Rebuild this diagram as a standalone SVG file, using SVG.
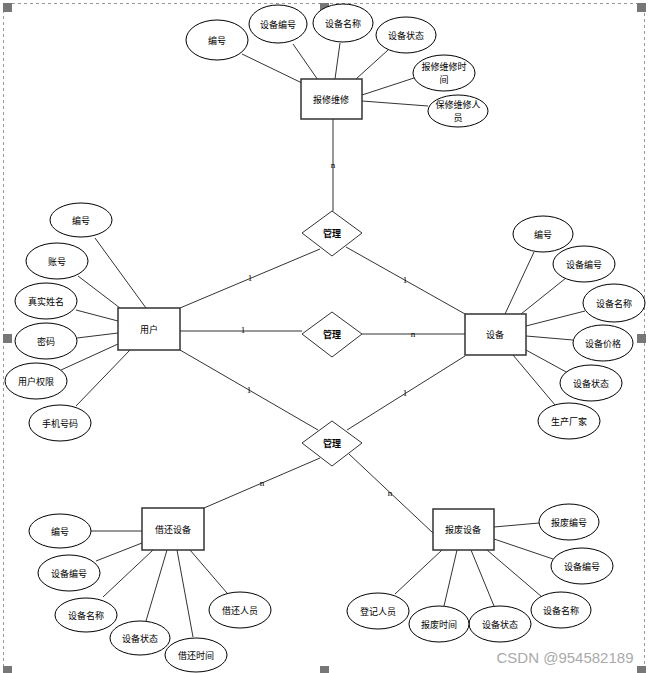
<svg xmlns="http://www.w3.org/2000/svg" width="648" height="673" viewBox="0 0 648 673">
<style>
.ent{fill:#fff;stroke:#333;stroke-width:1.5}
.att{fill:#fff;stroke:#000;stroke-width:1}
.rel{fill:#fff;stroke:#333;stroke-width:1}
.ln{stroke:#333;stroke-width:1;fill:none}
.t{font-family:"Noto Sans CJK SC","Liberation Sans",sans-serif;font-size:9px;text-anchor:middle;dominant-baseline:central;fill:#000}
.tb{font-weight:bold}
.card{font-family:"Liberation Serif",serif;font-size:9px;text-anchor:middle;dominant-baseline:central;fill:#000}
.h{fill:#777}
</style>
<rect width="648" height="673" fill="#fff"/>
<path d="M3.5,673 V3.5 H644.5 V673" fill="none" stroke="#999" stroke-dasharray="3,3"/>
<g id="handles">
<rect class="h" x="3" y="3" width="9" height="9"/>
<rect class="h" x="320" y="3" width="9" height="9"/>
<rect class="h" x="637" y="3" width="9" height="9"/>
<rect class="h" x="3" y="334" width="9" height="9"/>
<rect class="h" x="637" y="334" width="9" height="9"/>
<rect class="h" x="3" y="666" width="9" height="9"/>
<rect class="h" x="320" y="666" width="9" height="9"/>
<rect class="h" x="637" y="666" width="9" height="9"/>
</g>
<g id="connectors">
<line class="ln" x1="242" y1="54" x2="302" y2="83"/>
<line class="ln" x1="293" y1="44" x2="318" y2="80"/>
<line class="ln" x1="340" y1="43" x2="335" y2="79"/>
<line class="ln" x1="388" y1="50" x2="356" y2="79"/>
<line class="ln" x1="417" y1="77" x2="362" y2="95"/>
<line class="ln" x1="428" y1="106" x2="362" y2="101"/>
<line class="ln" x1="333" y1="119" x2="333" y2="211"/>
<line class="ln" x1="180" y1="308" x2="320" y2="249"/>
<line class="ln" x1="346" y1="247" x2="465" y2="314"/>
<line class="ln" x1="180" y1="331" x2="302" y2="331"/>
<line class="ln" x1="362" y1="334" x2="465" y2="334"/>
<line class="ln" x1="180" y1="350" x2="318" y2="430"/>
<line class="ln" x1="465" y1="356" x2="347" y2="430"/>
<line class="ln" x1="320" y1="458" x2="204" y2="508"/>
<line class="ln" x1="349" y1="454" x2="433" y2="533"/>
<line class="ln" x1="95" y1="238" x2="146" y2="308"/>
<line class="ln" x1="78" y1="276" x2="120" y2="308"/>
<line class="ln" x1="76" y1="310" x2="118" y2="321"/>
<line class="ln" x1="77" y1="338" x2="118" y2="333"/>
<line class="ln" x1="61" y1="370" x2="118" y2="344"/>
<line class="ln" x1="76" y1="406" x2="130" y2="350"/>
<line class="ln" x1="534" y1="252" x2="505" y2="314"/>
<line class="ln" x1="566" y1="278" x2="521" y2="314"/>
<line class="ln" x1="585" y1="311" x2="526" y2="326"/>
<line class="ln" x1="573" y1="340" x2="526" y2="336"/>
<line class="ln" x1="568" y1="373" x2="526" y2="350"/>
<line class="ln" x1="555" y1="405" x2="513" y2="355"/>
<line class="ln" x1="91" y1="531" x2="142" y2="531"/>
<line class="ln" x1="96" y1="561" x2="142" y2="543"/>
<line class="ln" x1="103" y1="597" x2="153" y2="550"/>
<line class="ln" x1="146" y1="621" x2="167" y2="550"/>
<line class="ln" x1="193" y1="637" x2="177" y2="550"/>
<line class="ln" x1="227" y1="593" x2="190" y2="550"/>
<line class="ln" x1="494" y1="527" x2="539" y2="523"/>
<line class="ln" x1="494" y1="539" x2="553" y2="559"/>
<line class="ln" x1="487" y1="550" x2="542" y2="597"/>
<line class="ln" x1="471" y1="550" x2="494" y2="606"/>
<line class="ln" x1="457" y1="550" x2="444" y2="606"/>
<line class="ln" x1="442" y1="550" x2="395" y2="594"/>
<g id="cardinalities">
<text class="card" x="333" y="165">n</text>
<text class="card" x="250" y="278">1</text>
<text class="card" x="405" y="280">1</text>
<text class="card" x="243" y="330">1</text>
<text class="card" x="413" y="334">n</text>
<text class="card" x="249" y="390">1</text>
<text class="card" x="405" y="393">1</text>
<text class="card" x="262" y="483">n</text>
<text class="card" x="390" y="493">n</text>
</g>
</g>
<g id="repair">
<rect class="ent" x="301" y="79" width="61" height="40"/>
<text class="t" x="331" y="99">报修维修</text>
</g>
<g id="repair-id"><ellipse class="att" cx="217" cy="40" rx="31" ry="20"/><text class="t" x="217" y="40">编号</text></g>
<g id="repair-devno"><ellipse class="att" cx="278" cy="24" rx="29" ry="19"/><text class="t" x="278" y="24">设备编号</text></g>
<g id="repair-devname"><ellipse class="att" cx="343" cy="23" rx="30" ry="19"/><text class="t" x="343" y="23">设备名称</text></g>
<g id="repair-devstate"><ellipse class="att" cx="406" cy="35" rx="30" ry="18"/><text class="t" x="406" y="35">设备状态</text></g>
<g id="repair-time"><ellipse class="att" cx="444" cy="73" rx="31" ry="18"/><text class="t" x="444" y="66.5" font-size="8.5">报修维修时</text><text class="t" x="444" y="79.5" font-size="8.5">间</text></g>
<g id="repair-staff"><ellipse class="att" cx="458" cy="111" rx="30" ry="16"/><text class="t" x="458" y="104.5" font-size="8.5">保修维修人</text><text class="t" x="458" y="117.5" font-size="8.5">员</text></g>
<g id="rel1"><polygon class="rel" points="302,233 332,211 362,233 332,256"/><text class="t tb" x="332" y="233">管理</text></g>
<g id="rel2"><polygon class="rel" points="302,334 332,312 362,334 332,357"/><text class="t tb" x="332" y="334">管理</text></g>
<g id="rel3"><polygon class="rel" points="302,443 332,421 362,443 332,466"/><text class="t tb" x="332" y="443">管理</text></g>
<g id="user">
<rect class="ent" x="118" y="308" width="62" height="42"/>
<text class="t" x="149" y="329">用户</text>
</g>
<g id="user-id"><ellipse class="att" cx="81" cy="220" rx="31" ry="17"/><text class="t" x="81" y="220">编号</text></g>
<g id="user-account"><ellipse class="att" cx="57" cy="261" rx="31" ry="18"/><text class="t" x="57" y="261">账号</text></g>
<g id="user-name"><ellipse class="att" cx="46" cy="301" rx="31" ry="18"/><text class="t" x="46" y="301">真实姓名</text></g>
<g id="user-pwd"><ellipse class="att" cx="46" cy="341" rx="31" ry="18"/><text class="t" x="46" y="341">密码</text></g>
<g id="user-perm"><ellipse class="att" cx="36" cy="381" rx="31" ry="18"/><text class="t" x="36" y="381">用户权限</text></g>
<g id="user-phone"><ellipse class="att" cx="60" cy="423" rx="31" ry="18"/><text class="t" x="60" y="423">手机号码</text></g>
<g id="device">
<rect class="ent" x="465" y="314" width="61" height="41"/>
<text class="t" x="495" y="334">设备</text>
</g>
<g id="dev-id"><ellipse class="att" cx="543" cy="234" rx="30" ry="18"/><text class="t" x="543" y="234">编号</text></g>
<g id="dev-no"><ellipse class="att" cx="584" cy="264" rx="31" ry="18"/><text class="t" x="584" y="264">设备编号</text></g>
<g id="dev-name"><ellipse class="att" cx="614" cy="303" rx="31" ry="19"/><text class="t" x="614" y="303">设备名称</text></g>
<g id="dev-price"><ellipse class="att" cx="603" cy="343" rx="30" ry="18"/><text class="t" x="603" y="343">设备价格</text></g>
<g id="dev-state"><ellipse class="att" cx="591" cy="383" rx="31" ry="18"/><text class="t" x="591" y="383">设备状态</text></g>
<g id="dev-maker"><ellipse class="att" cx="569" cy="421" rx="31" ry="18"/><text class="t" x="569" y="421">生产厂家</text></g>
<g id="borrow">
<rect class="ent" x="142" y="508" width="62" height="42"/>
<text class="t" x="173" y="529">借还设备</text>
</g>
<g id="b-id"><ellipse class="att" cx="60" cy="531" rx="31" ry="17"/><text class="t" x="60" y="531">编号</text></g>
<g id="b-no"><ellipse class="att" cx="69" cy="573" rx="31" ry="18"/><text class="t" x="69" y="573">设备编号</text></g>
<g id="b-name"><ellipse class="att" cx="86" cy="615" rx="31" ry="17"/><text class="t" x="86" y="615">设备名称</text></g>
<g id="b-state"><ellipse class="att" cx="140" cy="638" rx="30" ry="17"/><text class="t" x="140" y="638">设备状态</text></g>
<g id="b-time"><ellipse class="att" cx="196" cy="655" rx="31" ry="17"/><text class="t" x="196" y="655">借还时间</text></g>
<g id="b-staff"><ellipse class="att" cx="240" cy="610" rx="31" ry="18"/><text class="t" x="240" y="610">借还人员</text></g>
<g id="scrap">
<rect class="ent" x="433" y="509" width="61" height="41"/>
<text class="t" x="463" y="529">报废设备</text>
</g>
<g id="s-id"><ellipse class="att" cx="569" cy="522" rx="30" ry="18"/><text class="t" x="569" y="522">报废编号</text></g>
<g id="s-no"><ellipse class="att" cx="582" cy="566" rx="31" ry="18"/><text class="t" x="582" y="566">设备编号</text></g>
<g id="s-name"><ellipse class="att" cx="561" cy="610" rx="30" ry="18"/><text class="t" x="561" y="610">设备名称</text></g>
<g id="s-state"><ellipse class="att" cx="500" cy="624" rx="31" ry="18"/><text class="t" x="500" y="624">设备状态</text></g>
<g id="s-time"><ellipse class="att" cx="439" cy="624" rx="30" ry="18"/><text class="t" x="439" y="624">报废时间</text></g>
<g id="s-staff"><ellipse class="att" cx="378" cy="611" rx="31" ry="18"/><text class="t" x="378" y="611">登记人员</text></g>
<text x="565" y="663" font-family="Liberation Sans, sans-serif" font-size="15" fill="#aaa" text-anchor="middle">CSDN @954582189</text>
</svg>
